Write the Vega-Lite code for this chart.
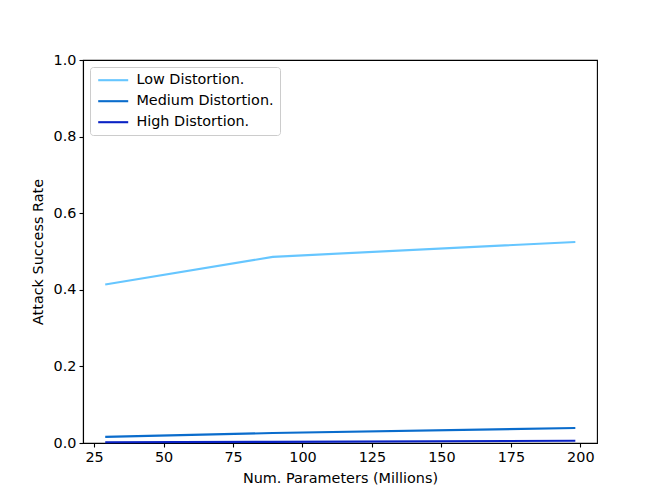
{
  "$schema": "https://vega.github.io/schema/vega-lite/v6.json",
  "width": 514,
  "height": 383,
  "autosize": {"type": "none"},
  "padding": {"left": 83, "top": 60, "right": 67, "bottom": 55},
  "background": "white",
  "config": {
    "font": "DejaVu Sans",
    "view": {"stroke": "black", "strokeWidth": 1.1},
    "axis": {
      "domainColor": "black", "domainWidth": 1.1,
      "tickColor": "black", "tickWidth": 1.1, "tickSize": 4,
      "labelFont": "DejaVu Sans", "labelFontSize": 14.4, "labelColor": "black", "labelPadding": 3,
      "titleFont": "DejaVu Sans", "titleFontSize": 14.4, "titleFontWeight": "normal", "titleColor": "black",
      "grid": false
    }
  },
  "data": {
    "values": [
      {"params": 29.0, "rate": 0.414, "level": "Low Distortion."},
      {"params": 89.3, "rate": 0.486, "level": "Low Distortion."},
      {"params": 198.2, "rate": 0.525, "level": "Low Distortion."},
      {"params": 29.0, "rate": 0.016, "level": "Medium Distortion."},
      {"params": 89.3, "rate": 0.026, "level": "Medium Distortion."},
      {"params": 198.2, "rate": 0.039, "level": "Medium Distortion."},
      {"params": 29.0, "rate": 0.002, "level": "High Distortion."},
      {"params": 89.3, "rate": 0.003, "level": "High Distortion."},
      {"params": 198.2, "rate": 0.006, "level": "High Distortion."}
    ]
  },
  "mark": {"type": "line", "strokeWidth": 2.1},
  "encoding": {
    "x": {
      "field": "params", "type": "quantitative",
      "scale": {"domain": [21, 206], "nice": false, "zero": false},
      "axis": {"title": "Num. Parameters (Millions)", "values": [25, 50, 75, 100, 125, 150, 175, 200], "titlePadding": 8}
    },
    "y": {
      "field": "rate", "type": "quantitative",
      "scale": {"domain": [0, 1], "nice": false},
      "axis": {"title": "Attack Success Rate", "values": [0, 0.2, 0.4, 0.6, 0.8, 1.0], "format": ".1f", "titlePadding": 8}
    },
    "color": {
      "field": "level", "type": "nominal",
      "scale": {
        "domain": ["Low Distortion.", "Medium Distortion.", "High Distortion."],
        "range": ["#66c6ff", "#0a6ccc", "#0a22c4"]
      },
      "legend": {
        "title": null,
        "orient": "top-left",
        "offset": 7,
        "padding": 6,
        "symbolType": "M-1,0H5",
        "symbolSize": 100,
        "symbolStrokeWidth": 2.1,
        "labelFontSize": 14.4,
        "labelFont": "DejaVu Sans",
        "labelColor": "black",
        "labelOffset": 26,
        "rowPadding": 6,
        "fillColor": "white",
        "strokeColor": "#cccccc",
        "cornerRadius": 3
      }
    }
  }
}
